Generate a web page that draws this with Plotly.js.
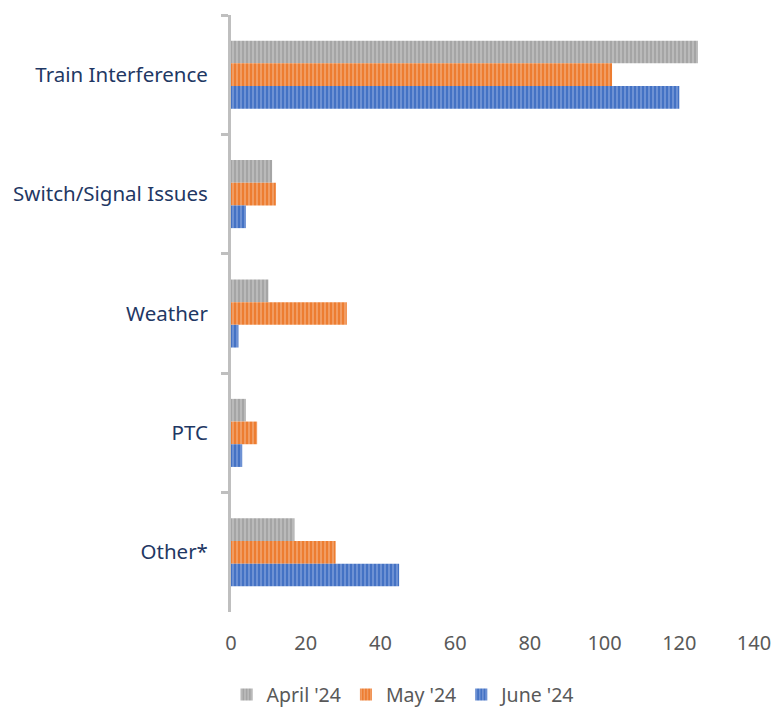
<!DOCTYPE html>
<html>
<head>
<meta charset="utf-8">
<script src="https://cdn.plot.ly/plotly-3.0.1.min.js"></script>
<style>html,body{margin:0;padding:0;background:#fff;}#chart{width:775px;height:709px;}</style>
</head>
<body>
<div id="chart"></div>
<script>
const categories = ["Train Interference", "Switch/Signal Issues", "Weather", "PTC", "Other*"];
const seriesNames = ["April '24", "May '24", "June '24"];
const april = [125, 11, 10, 4, 17];
const may = [102, 12, 31, 7, 28];
const june = [120, 4, 2, 3, 45];
const xTicks = [0, 20, 40, 60, 80, 100, 120, 140];

const baseColors = ["#A5A5A5", "#ED7D31", "#4472C4"];
const lightColors = ["#D9D9D9", "#F8CBAD", "#A9C0EA"];
const values = [april, may, june];

const traces = values.map((v, i) => ({
  type: "bar",
  orientation: "h",
  name: seriesNames[i],
  y: categories,
  x: v,
  marker: {
    color: baseColors[i],
    line: {width: 0},
    pattern: {shape: "|", bgcolor: baseColors[i], fgcolor: lightColors[i], size: 4, solidity: 0.4, fillmode: "overlay"}
  },
  hoverinfo: "x+y"
}));

const layout = {
  width: 775, height: 709,
  margin: {l: 231, r: 21, t: 15, b: 97},
  paper_bgcolor: "#fff", plot_bgcolor: "#fff",
  barmode: "group",
  bargap: 0.43,
  bargroupgap: 0,
  font: {family: "Noto Sans, sans-serif"},
  xaxis: {
    range: [0, 140], tickvals: xTicks, ticktext: xTicks.map(String),
    showgrid: false, zeroline: false, showline: false,
    ticks: "outside", ticklen: 13, tickcolor: "rgba(0,0,0,0)",
    tickfont: {size: 20, color: "#595959"}
  },
  yaxis: {
    autorange: "reversed",
    showgrid: false, zeroline: false,
    showline: true, linecolor: "#BFBFBF", linewidth: 3,
    ticks: "outside", tickson: "boundaries", ticklen: 7, tickwidth: 3, tickcolor: "#BFBFBF",
    ticklabelstandoff: 16,
    tickfont: {size: 20.5, color: "#1F3864"}
  },
  showlegend: true,
  legend: {
    orientation: "h", x: 0.33, xanchor: "center", yref: "container", y: 0.02, yanchor: "middle",
    font: {size: 19.5, color: "#595959"}, traceorder: "normal", itemwidth: 30
  }
};

Plotly.newPlot("chart", traces, layout, {displayModeBar: false, staticPlot: true});
</script>
</body>
</html>
